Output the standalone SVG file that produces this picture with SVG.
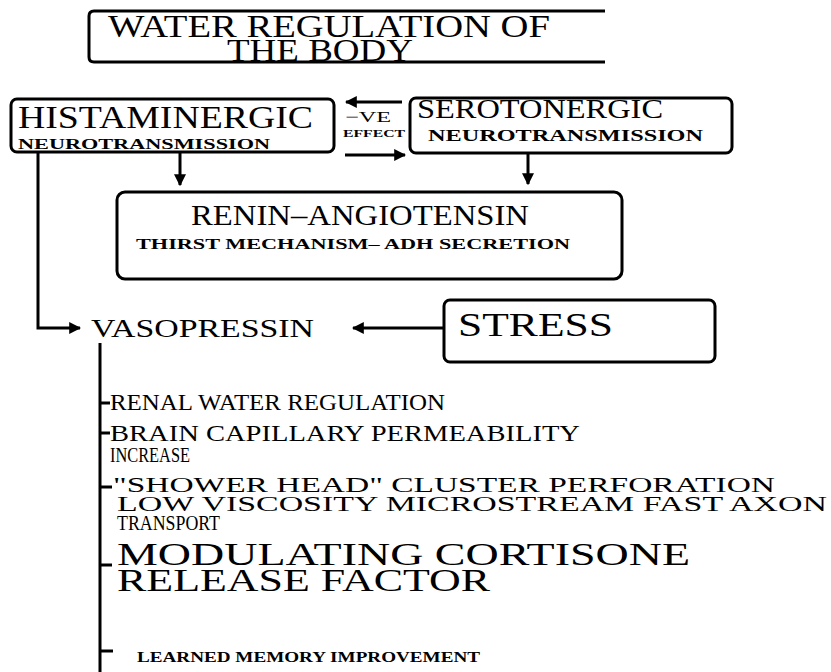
<svg xmlns="http://www.w3.org/2000/svg" width="831" height="672" viewBox="0 0 831 672">
<defs>
<style>
.box{fill:none;stroke:#000;stroke-width:3}
.ln{fill:none;stroke:#000;stroke-width:3}
.t{font-family:"Liberation Serif","Times New Roman",serif;fill:#000}
.b{font-weight:bold}
</style>
<marker id="ah" viewBox="0 0 10 10" refX="9" refY="5" markerWidth="4" markerHeight="4" orient="auto" markerUnits="strokeWidth">
<path d="M0,0 L10,5 L0,10 Z" fill="#000"/>
</marker>
</defs>
<rect width="831" height="672" fill="#fff"/>

<g id="title">
<path class="box" d="M605,11 H94 Q89,11 89,16 V57 Q89,62 94,62 H605"/>
<text class="t" font-size="31"><tspan x="108" y="37" textLength="442" lengthAdjust="spacingAndGlyphs">WATER REGULATION OF</tspan><tspan x="227" y="61" textLength="186" lengthAdjust="spacingAndGlyphs">THE BODY</tspan></text>
</g>

<g id="histaminergic">
<rect class="box" x="11" y="99" width="323" height="53" rx="6"/>
<text class="t" font-size="32"><tspan x="18" y="128" textLength="295" lengthAdjust="spacingAndGlyphs">HISTAMINERGIC</tspan><tspan class="b" x="18" y="149" font-size="14" textLength="252" lengthAdjust="spacingAndGlyphs">NEUROTRANSMISSION</tspan></text>
</g>

<g id="ve-effect">
<text class="t" font-size="15"><tspan x="345" y="122" textLength="46" lengthAdjust="spacingAndGlyphs">−VE</tspan><tspan class="b" x="343" y="137" font-size="10" textLength="62" lengthAdjust="spacingAndGlyphs">EFFECT</tspan></text>
</g>

<g id="serotonergic">
<rect class="box" x="410" y="98" width="322" height="55" rx="6"/>
<text class="t" font-size="27"><tspan x="417" y="118" textLength="246" lengthAdjust="spacingAndGlyphs">SEROTONERGIC</tspan><tspan class="b" x="428" y="141" font-size="16" textLength="275" lengthAdjust="spacingAndGlyphs">NEUROTRANSMISSION</tspan></text>
</g>

<g id="renin">
<rect class="box" x="117" y="192" width="505" height="87" rx="8"/>
<text class="t" font-size="29"><tspan x="191" y="225" textLength="338" lengthAdjust="spacingAndGlyphs">RENIN–ANGIOTENSIN</tspan><tspan class="b" x="136" y="249" font-size="15" textLength="434" lengthAdjust="spacingAndGlyphs">THIRST MECHANISM– ADH SECRETION</tspan></text>
</g>

<g id="vasopressin">
<text class="t" x="91" y="337" font-size="25" textLength="223" lengthAdjust="spacingAndGlyphs">VASOPRESSIN</text>
</g>

<g id="stress">
<rect class="box" x="444" y="300" width="271" height="62" rx="6"/>
<text class="t" x="458" y="336" font-size="34" textLength="155" lengthAdjust="spacingAndGlyphs">STRESS</text>
</g>

<g id="renal">
<text class="t" x="110" y="410" font-size="23" textLength="335" lengthAdjust="spacingAndGlyphs">RENAL WATER REGULATION</text>
</g>
<g id="brain">
<text class="t" font-size="23"><tspan x="110" y="441" textLength="470" lengthAdjust="spacingAndGlyphs">BRAIN CAPILLARY PERMEABILITY</tspan><tspan x="110" y="462" font-size="21" textLength="80" lengthAdjust="spacingAndGlyphs">INCREASE</tspan></text>
</g>
<g id="shower-head">
<text class="t" font-size="21"><tspan x="113" y="492" textLength="662" lengthAdjust="spacingAndGlyphs">"SHOWER HEAD" CLUSTER PERFORATION</tspan><tspan x="117" y="511" textLength="710" lengthAdjust="spacingAndGlyphs">LOW VISCOSITY MICROSTREAM FAST AXON</tspan><tspan x="117" y="530" textLength="103" lengthAdjust="spacingAndGlyphs">TRANSPORT</tspan></text>
</g>
<g id="cortisone">
<text class="t" font-size="32"><tspan x="117" y="565" textLength="573" lengthAdjust="spacingAndGlyphs">MODULATING CORTISONE</tspan><tspan x="117" y="591" textLength="373" lengthAdjust="spacingAndGlyphs">RELEASE FACTOR</tspan></text>
</g>
<g id="memory">
<text class="t b" x="137" y="662" font-size="15" textLength="343" lengthAdjust="spacingAndGlyphs">LEARNED MEMORY IMPROVEMENT</text>
</g>

<g id="connectors">
<line class="ln" x1="402" y1="102" x2="346" y2="102" marker-end="url(#ah)"/>
<line class="ln" x1="345" y1="155" x2="405" y2="155" marker-end="url(#ah)"/>
<line class="ln" x1="180" y1="153" x2="180" y2="185" marker-end="url(#ah)"/>
<line class="ln" x1="528" y1="154" x2="528" y2="184" marker-end="url(#ah)"/>
<path class="ln" d="M38,153 V328 H80" marker-end="url(#ah)"/>
<line class="ln" x1="444" y1="328" x2="353" y2="328" marker-end="url(#ah)"/>
<line class="ln" x1="100" y1="343" x2="100" y2="672"/>
<line class="ln" x1="100" y1="403" x2="110" y2="403"/>
<line class="ln" x1="100" y1="433" x2="110" y2="433"/>
<line class="ln" x1="100" y1="487" x2="112" y2="487"/>
<line class="ln" x1="100" y1="565" x2="112" y2="565"/>
<line class="ln" x1="100" y1="651" x2="113" y2="651"/>
</g>
</svg>
